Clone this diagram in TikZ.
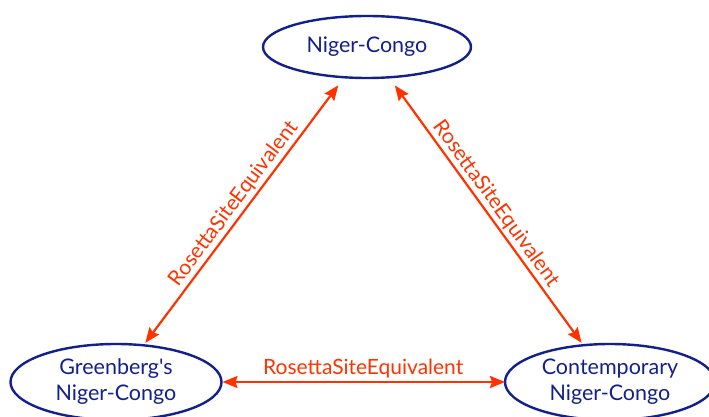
\documentclass[tikz,border=0pt]{standalone}
\usepackage{fontspec}
\setmainfont{Lato}
% plain family without TeX ligature mapping, so ' stays a straight quote
\newfontfamily\plainlato{Lato}
\usetikzlibrary{shapes.geometric,arrows.meta}
\definecolor{navy}{RGB}{18,32,140}
\definecolor{relred}{RGB}{255,51,0}
\tikzset{
  concept/.style={ellipse, draw=navy, line width=2.4pt, text=navy,
    inner sep=0pt, outer sep=0pt, align=center,
    font=\plainlato\fontsize{21.5}{26}\selectfont},
  relation/.style={draw=relred, line width=2.2pt,
    {Stealth[length=15pt,width=12pt,inset=2pt]}-{Stealth[length=15pt,width=12pt,inset=2pt]}},
  rellabel/.style={text=relred, font=\fontsize{21}{24}\selectfont, inner sep=2pt}
}
\begin{document}
\begin{tikzpicture}[x=1pt,y=-1pt]
  \useasboundingbox (0,0) rectangle (709,417);
  \clip (0,0) rectangle (709,417);

  % the three classifications
  \node[concept, minimum width=208pt, minimum height=62pt] (nc) at (367,47) {Niger-Congo};
  \node[concept, minimum width=211pt, minimum height=76pt] (gnc) at (116,382) {Greenberg's\\Niger-Congo};
  \node[concept, minimum width=210pt, minimum height=76pt] (cnc) at (610,382) {Contemporary\\Niger-Congo};

  % equivalence links
  \draw[relation, shorten <=3pt, shorten >=10pt] (gnc) -- (nc)
    node[rellabel, midway, sloped, above] {RosettaSiteEquivalent};
  \draw[relation, shorten <=10pt, shorten >=3pt] (nc) -- (cnc)
    node[rellabel, midway, sloped, above] {RosettaSiteEquivalent};
  \draw[relation, shorten <=1pt, shorten >=0pt] (gnc) -- (cnc)
    node[rellabel, midway, above, yshift=1pt] {RosettaSiteEquivalent};
\end{tikzpicture}
\end{document}
